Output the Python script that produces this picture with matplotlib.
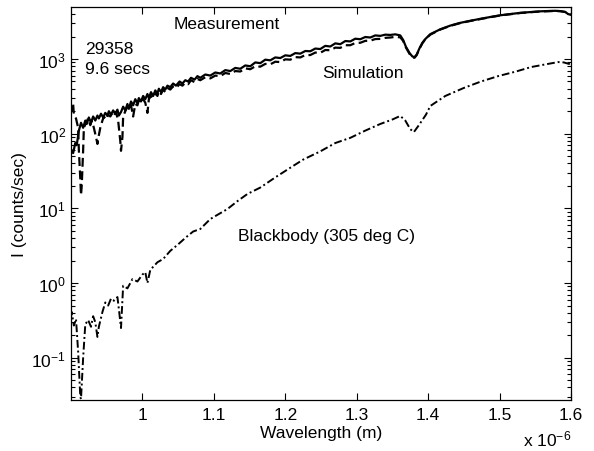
import numpy as np
import matplotlib
matplotlib.use("Agg")
import matplotlib.pyplot as plt
from matplotlib.ticker import FuncFormatter, LogLocator, NullFormatter

plt.rcParams['font.family'] = ['Liberation Sans', 'DejaVu Sans']
plt.rcParams['mathtext.fontset'] = 'custom'
plt.rcParams['mathtext.rm'] = 'Liberation Sans'
plt.rcParams['mathtext.it'] = 'Liberation Sans:italic'

# ---- data (wavelength in nm, intensity in counts/sec) ----
meas_wl = [900, 903, 906, 908, 911, 914, 917, 920, 922, 925, 928, 931, 934, 937, 939, 942, 945, 948,
           951, 953, 956, 959, 962, 965, 967, 970, 973, 976, 979, 981, 984, 987, 990, 993, 995, 998,
           1001, 1004, 1007, 1009, 1012, 1015, 1018, 1021, 1023, 1026, 1029, 1032, 1035, 1039, 1043,
           1047, 1052, 1056, 1060, 1064, 1068, 1073, 1077, 1081, 1088, 1095, 1102, 1109, 1116, 1123,
           1130, 1137, 1144, 1151, 1158, 1165, 1172, 1179, 1186, 1193, 1200, 1207, 1214, 1221, 1228,
           1235, 1242, 1249, 1256, 1263, 1270, 1277, 1284, 1291, 1298, 1305, 1312, 1319, 1326, 1333,
           1340, 1347, 1354, 1361, 1365, 1369, 1374, 1378, 1381, 1384, 1388, 1392, 1396, 1403, 1417,
           1431, 1445, 1459, 1473, 1487, 1501, 1515, 1529, 1543, 1557, 1571, 1578, 1585, 1592, 1596, 1600]
meas_val = [62, 55, 75, 70, 110, 140, 120, 150, 135, 165, 140, 170, 150, 175, 160, 185, 165, 190,
            175, 200, 180, 205, 185, 210, 175, 195, 230, 205, 250, 215, 270, 240, 290, 255, 300, 270,
            320, 290, 340, 300, 360, 320, 380, 345, 400, 360, 420, 390, 440, 420, 470,
            440, 500, 470, 520, 500, 560, 530, 590, 560, 620, 600, 660, 640, 710, 690,
            760, 740, 820, 800, 900, 880, 980, 960, 1050, 1030, 1120, 1100, 1200, 1180, 1280,
            1270, 1380, 1360, 1500, 1470, 1620, 1580, 1740, 1720, 1870, 1840, 1970, 1940, 2070, 2040,
            2120, 2100, 2140, 2070, 1800, 1450, 1200, 1080, 1060, 1150, 1400, 1650, 1850, 2150, 2500,
            2800, 3050, 3250, 3450, 3650, 3850, 4000, 4150, 4250, 4350, 4400, 4420, 4380, 4250, 4000, 3900]

sim_wl = [900, 901, 903, 904, 907, 910, 911, 913, 914, 915, 917, 918, 921, 924, 927, 929, 932, 935,
          937, 938, 941, 944, 946, 949, 952, 955, 958, 960, 963, 966, 969, 970, 972, 973, 976, 979,
          981, 984, 987, 990, 993, 995, 998, 1001, 1004, 1007, 1009, 1012, 1015, 1018, 1021, 1023,
          1026, 1029, 1032, 1035, 1039, 1043, 1047, 1052, 1056, 1060, 1064, 1068, 1073, 1077, 1081,
          1088, 1095, 1102, 1109, 1116, 1123, 1130, 1137, 1144, 1151, 1158, 1165, 1172, 1179, 1186,
          1193, 1200, 1207, 1214, 1221, 1228, 1235, 1242, 1249, 1256, 1263, 1270, 1277, 1284, 1291,
          1298, 1305, 1312, 1319, 1326, 1333, 1340, 1347, 1354, 1361, 1365, 1369, 1374, 1378, 1381,
          1384, 1388, 1392, 1396, 1403, 1417, 1431, 1445, 1459, 1473, 1487, 1501, 1515, 1529, 1543,
          1557, 1571, 1578, 1585, 1592, 1596, 1600]
sim_val = [235, 200, 250, 180, 160, 120, 60, 25, 15, 20, 60, 120, 140, 160, 130, 150, 120, 90,
           73, 85, 120, 150, 170, 155, 180, 170, 190, 175, 195, 150, 80, 59, 90, 170, 200, 230,
           210, 240, 170, 250, 240, 280, 260, 290, 260, 190, 290, 320, 300, 350, 320, 370,
           340, 390, 360, 410, 390, 430, 410, 460, 440, 480, 460, 520, 490, 540, 520,
           570, 550, 600, 590, 650, 630, 690, 680, 750, 730, 800, 790, 860, 850, 920,
           910, 990, 980, 1060, 1050, 1130, 1130, 1220, 1210, 1320, 1310, 1420, 1410, 1530, 1530,
           1640, 1650, 1750, 1760, 1850, 1860, 1920, 1940, 1980, 1950, 1750, 1420, 1170, 1050, 1040,
           1130, 1380, 1630, 1830, 2120, 2480, 2780, 3030, 3230, 3430, 3630, 3830, 3980, 4130, 4230,
           4330, 4380, 4400, 4370, 4270, 4100, 3950]

bb_wl = [900, 901, 904, 907, 910, 913, 914, 917, 920, 924, 928, 931, 934, 937, 939, 944, 948, 952,
         956, 960, 965, 967, 970, 973, 979, 986, 993, 1000, 1004, 1007, 1011, 1021, 1029, 1039, 1050,
         1061, 1071, 1081, 1095, 1106, 1119, 1133, 1147, 1165, 1186, 1207, 1225, 1249, 1270, 1291,
         1312, 1333, 1350, 1361, 1368, 1375, 1380, 1387, 1397, 1403, 1424, 1450, 1474, 1498, 1523,
         1544, 1565, 1582, 1590, 1597, 1600]
bb_val = [0.35, 0.41, 0.27, 0.33, 0.12, 0.03, 0.028, 0.10, 0.28, 0.32, 0.26, 0.36, 0.30, 0.19, 0.26,
          0.41, 0.55, 0.50, 0.62, 0.58, 0.65, 0.45, 0.25, 0.92, 0.85, 1.13, 1.05, 1.3, 1.4, 1.0, 1.5,
          1.9, 2.1, 2.7, 3.3, 4.1, 4.9, 5.3, 7.2, 8.3, 9.8, 12.5, 15.6, 19, 26, 35, 45, 58, 75, 88,
          110, 135, 155, 173, 150, 115, 105, 130, 180, 235, 320, 410, 500, 590, 680,
          780, 850, 910, 900, 860, 880]

xtick_vals = [1.0, 1.1, 1.2, 1.3, 1.4, 1.5, 1.6]

fig = plt.figure(figsize=(5.94, 4.52), dpi=100)
ax = fig.add_axes([71/594, 1 - 401/452, 500/594, 393/452])

nm = 1e-9
ax.plot(np.array(meas_wl) * nm, meas_val, color='black', lw=1.6, ls='-')
ax.plot(np.array(sim_wl) * nm, sim_val, color='black', lw=1.6, ls=(0, (4, 2)))
ax.plot(np.array(bb_wl) * nm, bb_val, color='black', lw=1.4, ls=(0, (4, 1.5, 1, 1.5)))

ax.set_yscale('log')
ax.set_xlim(0.9e-6, 1.6e-6)
ax.set_ylim(0.0272, 4970)

ax.set_xticks([v * 1e-6 for v in xtick_vals])
ax.xaxis.set_major_formatter(FuncFormatter(lambda x, p: '%g' % round(x / 1e-6, 3)))
ax.yaxis.set_major_locator(LogLocator(base=10, numticks=12))
ax.yaxis.set_minor_locator(LogLocator(base=10, subs=np.arange(2, 10), numticks=12))
ax.yaxis.set_minor_formatter(NullFormatter())

fs = 12.5
ax.tick_params(which='both', direction='in', top=True, right=True, labelsize=fs, width=0.8, color='black')
ax.tick_params(which='major', length=5)
ax.tick_params(which='minor', length=3)
ax.tick_params(axis='x', pad=5)
for s in ax.spines.values():
    s.set_linewidth(0.9)

ax.set_xlabel('Wavelength (m)', fontsize=fs, labelpad=2.5)
ax.set_ylabel('I (counts/sec)', fontsize=fs, labelpad=3)

ax.text(1.043e-6, 2960, 'Measurement', fontsize=fs, va='center', ha='left')
ax.text(0.9196e-6, 1404, '29358', fontsize=fs, va='center', ha='left')
ax.text(0.9196e-6, 757, '9.6 secs', fontsize=fs, va='center', ha='left')
ax.text(1.252e-6, 650, 'Simulation', fontsize=fs, va='center', ha='left')
ax.text(1.134e-6, 4.4, 'Blackbody (305 deg C)', fontsize=fs, va='center', ha='left')

fig.text(523/594, 1 - 439/452, r'x 10$^{-6}$', fontsize=fs, va='center', ha='left')

fig.savefig('out.png', dpi=100)
